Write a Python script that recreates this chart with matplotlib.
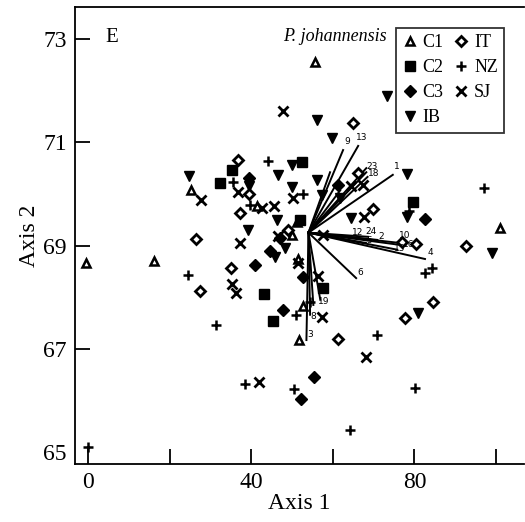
import numpy as np
import matplotlib.pyplot as plt
from matplotlib.lines import Line2D

plt.rcParams['font.family'] = ['Liberation Serif', 'DejaVu Serif']

# group scores (axis 1, axis 2)
c1_x = [-0.5, 16.1, 25.2, 55.7, 101.0, 51.7, 52.7, 51.2, 50.0, 51.5, 41.4]
c1_y = [68.66, 68.70, 70.08, 72.56, 69.34, 67.17, 67.83, 69.46, 69.20, 68.74, 69.77]

c2_x = [35.3, 32.4, 52.4, 79.7, 43.2, 45.3, 57.6, 52.0]
c2_y = [70.46, 70.21, 70.62, 69.84, 68.06, 67.54, 68.18, 69.50]

c3_x = [40.9, 44.6, 47.8, 52.7, 55.4, 52.2, 82.6, 61.3, 47.0, 39.4]
c3_y = [68.63, 68.90, 67.75, 68.40, 66.46, 66.03, 69.52, 70.17, 69.15, 70.30]

ib_x = [24.7, 39.4, 46.6, 50.0, 50.0, 56.1, 59.8, 57.4, 46.3, 39.2, 45.8, 48.3,
        78.2, 78.2, 64.4, 61.8, 99.1, 73.3, 56.1, 80.9]
ib_y = [70.35, 70.15, 70.37, 70.56, 70.13, 70.27, 71.08, 69.98, 69.50, 69.30, 68.78, 68.96,
        70.39, 69.55, 69.53, 69.92, 68.86, 71.90, 71.43, 67.70]

it_x = [26.4, 27.4, 35.0, 61.3, 66.2, 69.9, 77.0, 80.4, 92.7, 84.6, 77.6, 65.0,
        36.8, 37.2, 39.4, 49.0]
it_y = [69.13, 68.12, 68.57, 67.19, 70.40, 69.71, 69.07, 69.03, 69.00, 67.90, 67.60, 71.37,
        70.66, 69.63, 70.00, 69.30]

nz_x = [24.5, 31.3, 50.9, 54.4, 38.5, 50.5, 64.2, 70.8, 80.2, 97.1, 82.6, 84.3,
        78.7, 44.1, 35.5, 52.7, 39.7, 0.0]
nz_y = [68.43, 67.46, 67.66, 67.91, 66.32, 66.22, 65.43, 67.27, 66.24, 70.12, 68.47, 68.57,
        69.67, 70.64, 70.23, 70.00, 69.79, 65.10]

sj_x = [27.6, 36.6, 42.7, 45.6, 50.3, 47.8, 37.3, 46.6, 51.5, 56.4, 57.3, 35.2,
        36.2, 57.6, 41.9, 68.1, 64.4, 67.5, 67.7]
sj_y = [69.89, 70.04, 69.73, 69.77, 69.92, 71.61, 69.05, 69.19, 68.66, 68.41, 67.61, 68.26,
        68.08, 69.20, 66.36, 66.84, 70.15, 70.17, 69.55]

# variable vectors (tips) from the common origin
origin = (54.0, 69.25)
vec_x = [62.5, 66.2, 68.2, 68.2, 68.5, 74.7, 65.5, 68.6, 70.9, 68.1, 76.5, 77.7,
         75.8, 82.6, 65.7, 56.9, 55.2, 54.4, 53.5, 61.8, 59.3]
vec_y = [70.85, 70.93, 70.50, 70.42, 70.33, 70.37, 69.15, 69.17, 69.11, 69.05, 69.05, 69.00,
         68.92, 68.74, 68.37, 67.95, 67.85, 67.66, 67.17, 70.07, 70.42]

# vector numbers, where they sit on the plot
num_labels = ['9', '13', '23', '18', '1', '12', '24', '2', '5', '10', '16', '15',
              '4', '6', '19', '8', '3']
num_x = [63.6, 67.1, 69.6, 69.9, 75.8, 66.0, 69.4, 71.8, 68.9, 77.7, 78.7, 76.3,
         83.8, 66.7, 57.8, 55.1, 54.4]
num_y = [71.02, 71.10, 70.54, 70.39, 70.54, 69.25, 69.27, 69.17, 69.09, 69.19, 69.03, 68.94,
         68.86, 68.47, 67.91, 67.63, 67.28]

fig = plt.figure(figsize=(5.25, 5.22), dpi=100)
ax = fig.add_axes([75 / 525, 58 / 522, 449 / 525, 457 / 522])

for vx, vy in zip(vec_x, vec_y):
    ax.plot([origin[0], vx], [origin[1], vy], color='black', lw=1.4, zorder=2)
for lab, tx, ty in zip(num_labels, num_x, num_y):
    ax.text(tx, ty, lab, fontsize=6.5, family='DejaVu Sans', ha='center', va='center',
            zorder=4)

ms = 6
ax.plot(c1_x, c1_y, '^', ms=ms, mfc='white', mec='black', mew=1.8, ls='none', zorder=3)
ax.plot(c2_x, c2_y, 's', ms=ms + 1, color='black', ls='none', zorder=3)
ax.plot(c3_x, c3_y, 'D', ms=ms, color='black', ls='none', zorder=3)
ax.plot(ib_x, ib_y, 'v', ms=ms + 1.5, color='black', ls='none', zorder=3)
ax.plot(it_x, it_y, 'D', ms=ms - 0.5, mfc='white', mec='black', mew=2, ls='none', zorder=3)
ax.plot(nz_x, nz_y, '+', ms=ms + 1, color='black', mew=1.8, ls='none', zorder=3)
ax.plot(sj_x, sj_y, 'x', ms=ms + 0.5, color='black', mew=2, ls='none', zorder=3)

ax.set_xlim(-3.3, 106.9)
ax.set_ylim(64.77, 73.62)
ax.set_xticks([0, 20, 40, 60, 80, 100])
ax.set_xticklabels(['0', '', '40', '', '80', ''])
ax.set_yticks([65, 67, 69, 71, 73])
ax.tick_params(direction='in', length=11, width=1.3, labelsize=17, pad=6)
ax.yaxis.get_major_ticks()[0].tick1line.set_visible(False)
for s in ax.spines.values():
    s.set_linewidth(1.3)
ax.spines['right'].set_visible(False)

ax.set_xlabel('Axis 1', fontsize=17, labelpad=0)
ax.set_ylabel('Axis 2', fontsize=17, labelpad=2)

ax.text(0.067, 0.955, 'E', transform=ax.transAxes, fontsize=15, va='top')
ax.text(0.579, 0.955, 'P. johannensis', transform=ax.transAxes, fontsize=13,
        style='italic', va='top', ha='center')

handles = [
    Line2D([], [], marker='^', ms=6, mfc='white', mec='black', mew=1.8, ls='none'),
    Line2D([], [], marker='s', ms=7, color='black', ls='none'),
    Line2D([], [], marker='D', ms=6, color='black', ls='none'),
    Line2D([], [], marker='v', ms=7.5, color='black', ls='none'),
    Line2D([], [], marker='D', ms=5.5, mfc='white', mec='black', mew=2, ls='none'),
    Line2D([], [], marker='+', ms=7, color='black', mew=1.8, ls='none'),
    Line2D([], [], marker='x', ms=6.5, color='black', mew=2, ls='none'),
]
names = ['C1', 'C2', 'C3', 'IB', 'IT', 'NZ', 'SJ']
leg = ax.legend(handles, names, ncol=2, loc='upper right', bbox_to_anchor=(0.956, 0.955),
                fontsize=13, frameon=True, fancybox=False, edgecolor='black',
                handlelength=0.8, handletextpad=0.3, columnspacing=0.6,
                labelspacing=0.45, borderpad=0.35, borderaxespad=0)
leg.get_frame().set_linewidth(1.3)

fig.savefig('out.png', dpi=100)
